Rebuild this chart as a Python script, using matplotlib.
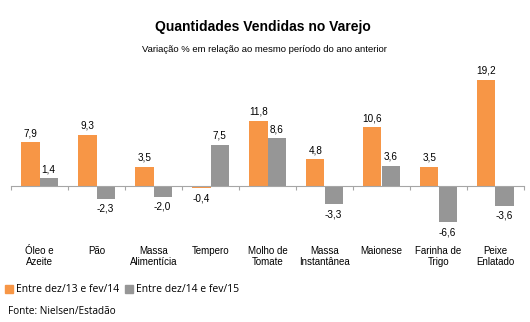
import matplotlib.pyplot as plt
import numpy as np

categories = ["Óleo e\nAzeite", "Pão", "Massa\nAlimentícia", "Tempero", "Molho de\nTomate",
              "Massa\nInstantânea", "Maionese", "Farinha de\nTrigo", "Peixe\nEnlatado"]
periodo_1 = [7.9, 9.3, 3.5, -0.4, 11.8, 4.8, 10.6, 3.5, 19.2]
periodo_2 = [1.4, -2.3, -2.0, 7.5, 8.6, -3.3, 3.6, -6.6, -3.6]
series_names = ["Entre dez/13 e fev/14", "Entre dez/14 e fev/15"]
colors = ["#F79646", "#969696"]

fig = plt.figure(figsize=(5.3, 3.22), dpi=100)
ax = fig.add_axes([11 / 530, 92 / 322, 513 / 530, 160 / 322])

x = np.arange(len(categories))
w = 0.316
for vals, off, col in [(periodo_1, -w / 2, colors[0]), (periodo_2, w / 2, colors[1])]:
    bars = ax.bar(x + off, vals, width=w, color=col)
    for b, v in zip(bars, vals):
        label = f"{v:.1f}".replace(".", ",")
        if v >= 0:
            ax.annotate(label, (b.get_x() + b.get_width() / 2, v), xytext=(0, 3),
                        textcoords="offset points", ha="center", va="bottom",
                        fontsize=7.2, family="Liberation Sans")
        else:
            ax.annotate(label, (b.get_x() + b.get_width() / 2, v), xytext=(0, -3.5),
                        textcoords="offset points", ha="center", va="top",
                        fontsize=7.2, family="Liberation Sans")

ax.set_xlim(-0.5, len(categories) - 0.5)
ax.set_ylim(-7.97, 21.0)
for s in ["top", "right", "left"]:
    ax.spines[s].set_visible(False)
ax.spines["bottom"].set_position(("data", 0))
ax.spines["bottom"].set_color("#a6a6a6")
ax.spines["bottom"].set_linewidth(0.8)
ax.set_xticks(np.arange(-0.5, len(categories), 1.0))
ax.set_xticklabels([])
ax.tick_params(axis="x", direction="out", length=3, color="#a6a6a6", width=0.8)
ax.set_yticks([])

for i, c in enumerate(categories):
    ax.text(i, -0.1, c, transform=ax.get_xaxis_transform(), ha="center", va="top",
            fontsize=7, family="Liberation Sans", linespacing=1.15)

fig.text(263 / 530, 1 - 27 / 322, "Quantidades Vendidas no Varejo", ha="center", va="center",
         fontsize=10, fontweight="bold", family="Liberation Sans")
fig.text(264 / 530, 1 - 50 / 322, "Variação % em relação ao mesmo período do ano anterior",
         ha="center", va="center", fontsize=6.8, family="Liberation Sans")

# legenda manual
leg_y = 1 - 289 / 322
for xs, name, col in [(5, series_names[0], colors[0]), (125, series_names[1], colors[1])]:
    fig.patches.append(plt.Rectangle((xs / 530, leg_y - 4 / 322), 8 / 530, 8 / 322,
                                     transform=fig.transFigure, color=col))
    fig.text((xs + 11) / 530, leg_y, name, ha="left", va="center", fontsize=7.5, family="Open Sans")

fig.text(8 / 530, 1 - 312 / 322, "Fonte: Nielsen/Estadão", ha="left", va="center",
         fontsize=7.2, family="Open Sans")

fig.savefig("out.png", dpi=100)
